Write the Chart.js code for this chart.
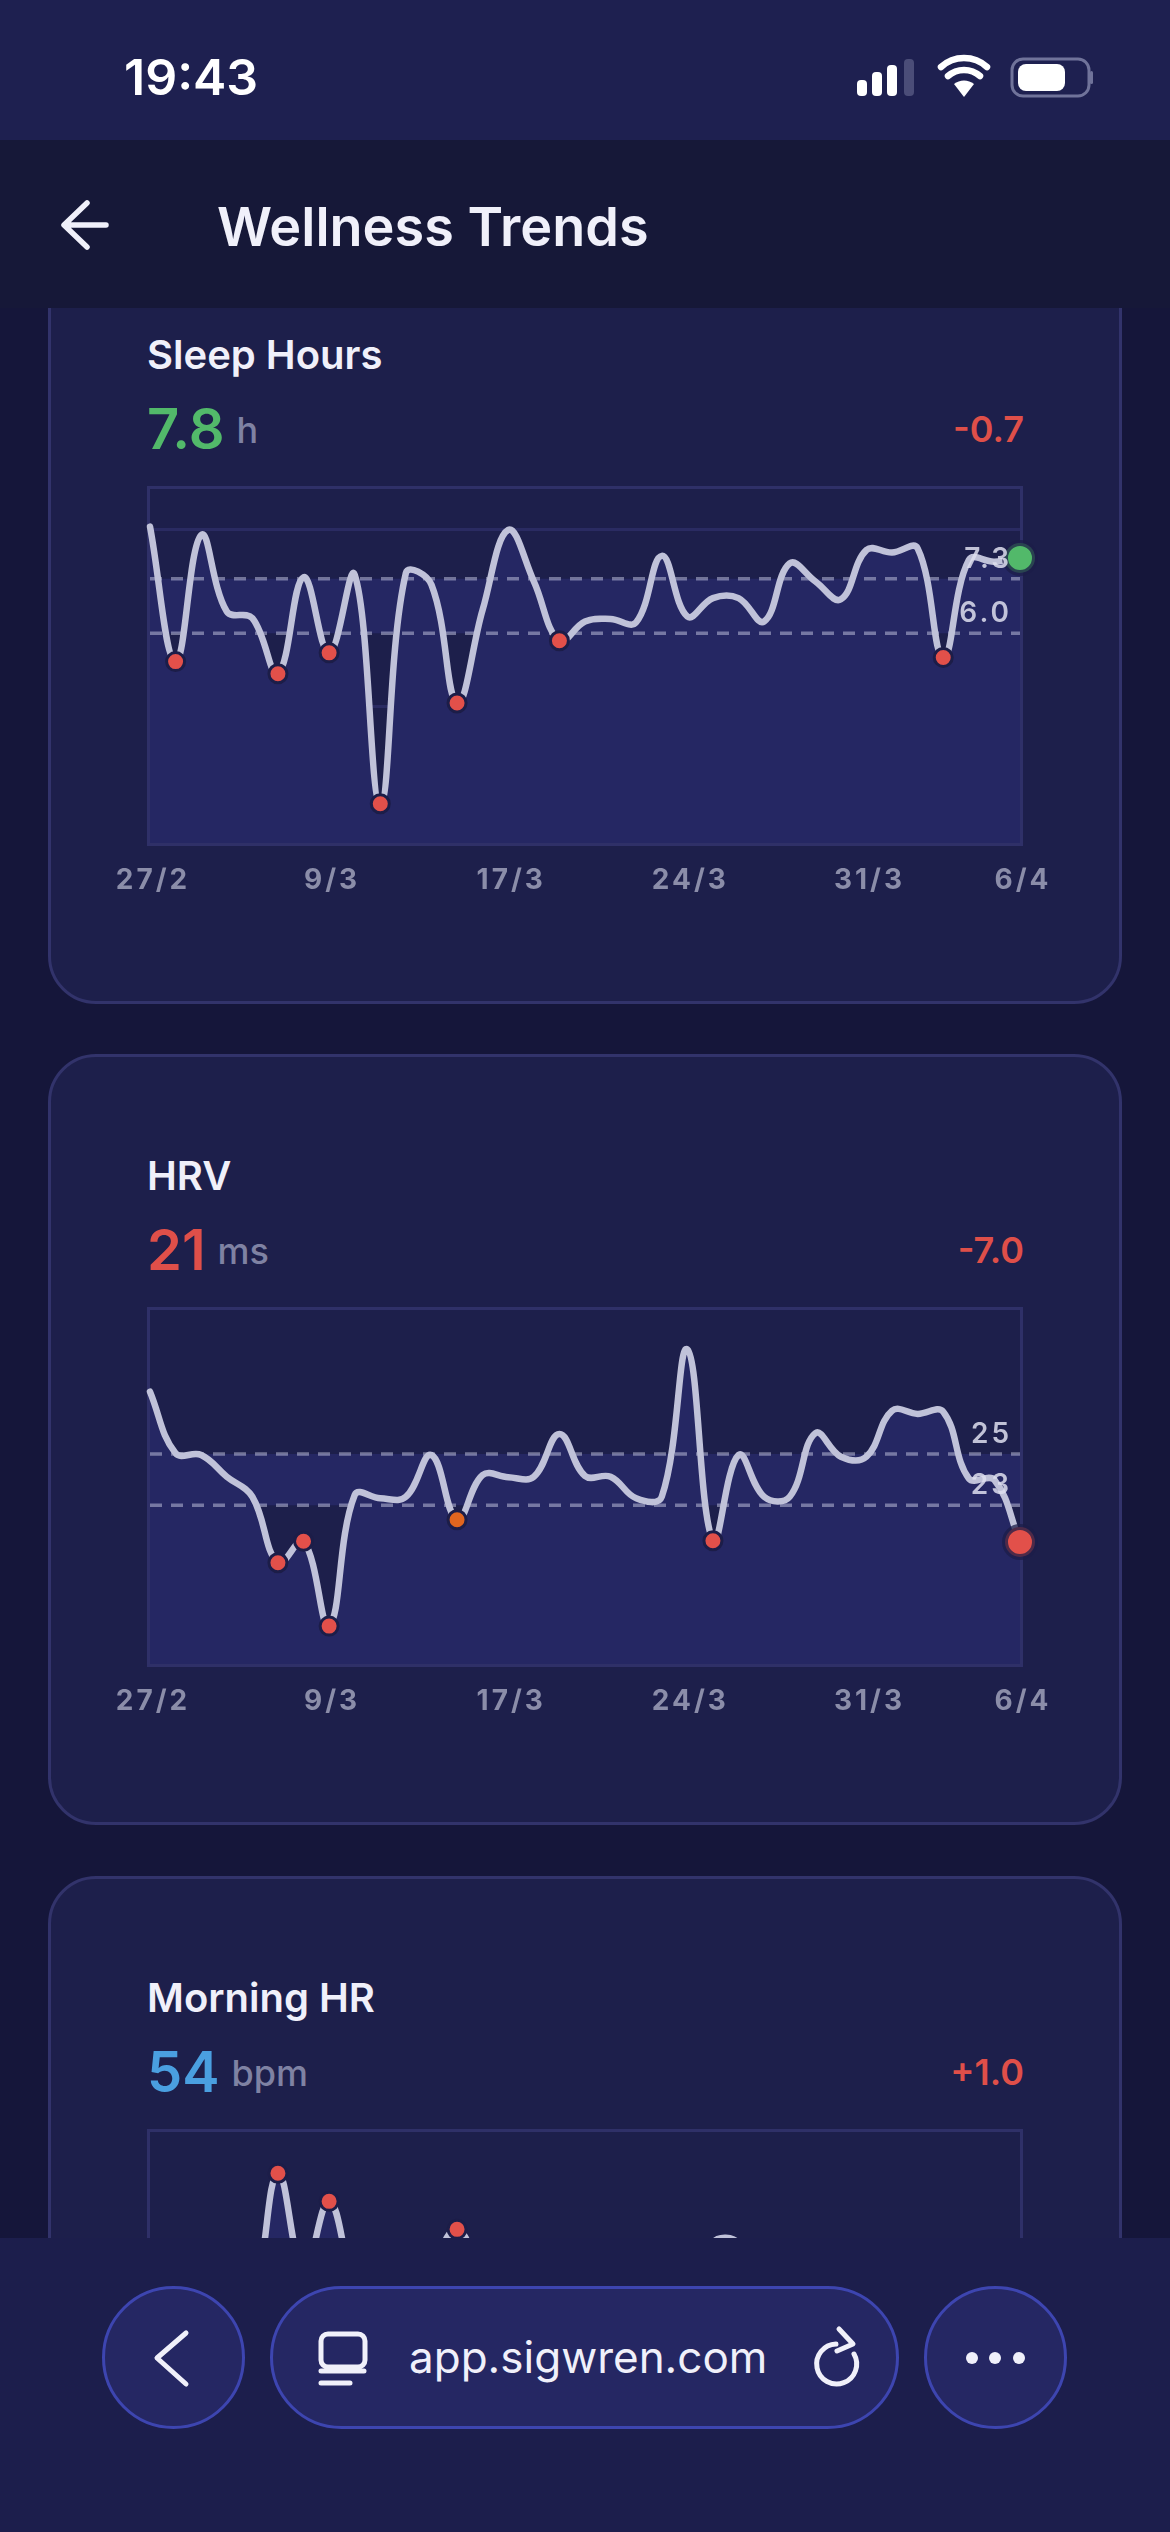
<!DOCTYPE html>
<html lang="en">
<head>
<meta charset="UTF-8">
<title>Wellness Trends</title>
<style>
  html, body { margin: 0; padding: 0; background: #15163a; }
  body { width: 1170px; height: 2532px; position: relative; overflow: hidden; font-family: Inter, sans-serif; color: #f0f0fa; }
  .abs { position: absolute; }
  .status { left: 0; top: 0; width: 1170px; height: 140px; background: #1e2050; z-index: 5; }
  .time { left: 124px; top: 47px; font-size: 50px; font-weight: 600; line-height: 60px; color: #fff; }
  .header { left: 0; top: 140px; width: 1170px; height: 168px; background: #161838; z-index: 5; }
  .heading { left: 217px; top: 55px; font-size: 54px; font-weight: 600; line-height: 64px; }
  .card { left: 48px; width: 1074px; height: 771px; box-sizing: border-box; background: #1d1f4b; border: 3px solid #32336b; border-radius: 48px; }
  .card h2 { position: absolute; left: 96px; top: 96px; margin: 0; font-size: 40px; font-weight: 600; line-height: 46px; }
  .val { position: absolute; left: 96px; top: 159px; font-size: 56px; font-weight: 600; line-height: 68px; }
  .val span { position: relative; top: -6px; font-size: 36px; font-weight: 500; color: #7f82a3; margin-left: 12px; }
  .delta { position: absolute; right: 95px; top: 171px; font-size: 36px; font-weight: 600; line-height: 44px; color: #df4f49; }
  .card canvas { position: absolute; left: 49px; top: 240px; }
  .bar { left: 0; top: 2238px; width: 1170px; height: 294px; background: #1c1e4c; z-index: 5; }
  .btn { top: 48px; height: 143px; box-sizing: border-box; background: #252763; border: 3px solid #3d45b0; border-radius: 72px; }
  .url { left: 409px; top: 91px; font-size: 44px; line-height: 56px; color: #f0f0fa; }
  svg { position: absolute; left: 0; top: 0; overflow: visible; }
</style>
<script src="https://cdn.jsdelivr.net/npm/chart.js"></script>
</head>
<body>
<div class="abs status">
  <div class="abs time">19:43</div>
  <svg width="1170" height="140">
    <g fill="#fff">
      <rect x="857" y="80" width="10" height="16" rx="4"/>
      <rect x="872" y="72" width="10" height="24" rx="4"/>
      <rect x="887" y="65" width="10" height="31" rx="4"/>
      <rect x="904" y="59" width="10" height="37" rx="4" fill="#4b4d78"/>
      <path d="M964 97l-10-13a16 16 0 0 1 20 0z"/>
    </g>
    <g fill="none" stroke="#fff" stroke-width="6.5" stroke-linecap="round">
      <path d="M948 76a24 24 0 0 1 32 0"/>
      <path d="M941 67a34 34 0 0 1 46 0"/>
    </g>
    <rect x="1012" y="59" width="77" height="37" rx="11" fill="none" stroke="#70739a" stroke-width="3"/>
    <rect x="1018" y="64" width="47" height="27" rx="8" fill="#fff"/>
    <rect x="1090" y="71" width="3" height="13" rx="1.5" fill="#70739a"/>
  </svg>
</div>
<div class="abs header">
  <svg width="1170" height="168">
    <path d="M106 85H65M87 63L64 85L87 107" fill="none" stroke="#f0f0fa" stroke-width="5.5" stroke-linecap="round" stroke-linejoin="round"/>
  </svg>
  <div class="abs heading">Wellness Trends</div>
</div>

<div class="abs card" style="top:233px">
  <h2>Sleep Hours</h2>
  <div class="val" style="color:#52b96a">7.8<span>h</span></div>
  <div class="delta">-0.7</div>
  <canvas id="sleepChart" width="970" height="440"></canvas>
</div>
<div class="abs card" style="top:1054px">
  <h2>HRV</h2>
  <div class="val" style="color:#df4f49">21<span>ms</span></div>
  <div class="delta">-7.0</div>
  <canvas id="hrvChart" width="970" height="440"></canvas>
</div>
<div class="abs card" style="top:1876px">
  <h2>Morning HR</h2>
  <div class="val" style="color:#4a9fe0">54<span>bpm</span></div>
  <div class="delta">+1.0</div>
  <canvas id="hrChart" width="970" height="440"></canvas>
</div>

<div class="abs bar">
  <div class="abs btn" style="left:102px;width:143px"></div>
  <div class="abs btn" style="left:270px;width:629px"></div>
  <div class="abs btn" style="left:924px;width:143px"></div>
  <div class="abs url">app.sigwren.com</div>
  <svg width="1170" height="294">
    <g fill="none" stroke="#f0f0fa" stroke-width="5" stroke-linecap="round" stroke-linejoin="round">
      <path d="M186 95L157 120L186 146"/>
      <rect x="321" y="96" width="44" height="33" rx="7"/>
      <path d="M321 133H364M321 145H350"/>
      <path d="M854 116a20 20 0 1 1-18-10"/>
      <path d="M839 91l14 15l-16 7"/>
    </g>
    <g fill="#f0f0fa">
      <circle cx="972" cy="120" r="6"/>
      <circle cx="995" cy="120" r="6"/>
      <circle cx="1019" cy="120" r="6"/>
    </g>
  </svg>
</div>

<script>
// x axis
const dates = ['27/2','28/2','1/3','3/3','4/3','6/3','7/3','9/3','10/3','11/3','12/3','13/3','15/3','16/3','17/3',
  '18/3','19/3','20/3','21/3','22/3','23/3','24/3','25/3','26/3','27/3','28/3','29/3','30/3','31/3',
  '1/4','2/4','3/4','4/4','5/4','6/4'];
const tickDates = ['27/2','9/3','17/3','24/3','31/3','6/4'];

// Sleep Hours
const sleepValues = [8.55,5.32,8.35,6.52,6.36,5.03,7.34,5.53,7.40,1.92,7.44,7.16,4.33,6.56,8.47,7.24,5.82,
  6.28,6.34,6.26,7.85,6.40,6.84,6.84,6.28,7.67,7.24,6.81,7.99,7.93,8.03,5.42,7.75,7.71,7.8];
const sleepBand = [7.3, 6.0];
const sleepRange = [0.98, 9.45];
const sleepGrid = [4.25, 8.47];
const sleepLows = [1,5,7,9,12,16,31];

// HRV
const hrvValues = [27.15,24.63,24.56,23.67,22.85,20.15,21.03,17.56,22.92,22.79,22.85,24.56,21.91,23.74,23.65,23.67,25.42,
  23.7,23.67,22.79,22.85,28.88,21.05,24.56,22.85,22.85,25.45,24.49,24.49,26.37,26.24,26.33,23.6,23.54,21];
const hrvBand = [24.6, 22.5];
const hrvRange = [16.01, 30.49];
const hrvLows = [5,6,7,22];
const hrvWarn = [12];

// Morning HR (everything below the toolbar is estimated)
const hrValues = [56,55.5,56,57,58.5,67.2,60.5,65.3,59.5,57,56,60.5,63.4,60,57,55.5,56,55,56,55,56,58,
  62.5,62.45,58,55,55.5,54.5,55,54,54,55,53.5,54,54];
const hrBand = [58, 56];
const hrRange = [46, 70];
const hrHighs = [5,7,12];

const RED = '#e2504a', ORANGE = '#e0651f', RING = '#1c1d48';
const LIGHT = '#252763';

// plot frame + threshold labels
const framePlugin = {
  id: 'frame',
  beforeDraw(chart) {
    chart.ctx.letterSpacing = '3px';
    const a = chart.chartArea, c = chart.ctx;
    c.save();
    c.strokeStyle = '#2f3068';
    c.lineWidth = 3;
    c.strokeRect(a.left - 1.5, a.top - 1.5, a.width + 3, a.height + 3);
    c.restore();
  },
  afterDatasetsDraw(chart, args, opts) {
    const c = chart.ctx, y = chart.scales.y;
    c.save();
    c.font = '600 28px Inter';
    c.fillStyle = 'rgba(222,223,238,0.85)';
    c.textAlign = 'right';
    c.textBaseline = 'alphabetic';
    opts.band.forEach((v, i) => {
      c.fillText(opts.text[i], chart.chartArea.right - 8, y.getPixelForValue(v) - 11);
    });
    c.restore();
  }
};

function makeChart(id, values, band, range, grid, text, redIdx, warnIdx, lastColor) {
  const last = values.length - 1;
  const bandHi = values.map(() => band[0]);
  const bandLo = values.map(() => band[1]);
  const dash = { borderColor: 'rgba(200,201,228,0.5)', borderWidth: 3.5, borderDash: [12, 9], pointRadius: 0, tension: 0 };
  return new Chart(document.getElementById(id), {
    type: 'line',
    data: {
      labels: dates,
      datasets: [
        {
          data: values, order: 0, clip: false,
          borderColor: '#c0c2d9', borderWidth: 6.5, tension: 0.4, borderCapStyle: 'round', fill: false,
          pointRadius: c => c.dataIndex === last ? 15 : (redIdx.includes(c.dataIndex) || warnIdx.includes(c.dataIndex)) ? 9 : 0,
          pointBackgroundColor: c => c.dataIndex === last ? lastColor : warnIdx.includes(c.dataIndex) ? ORANGE : RED,
          pointBorderColor: c => c.dataIndex === last ? 'rgba(28,29,72,0.75)' : RING,
          pointBorderWidth: c => c.dataIndex === last ? 6 : 3
        },
        // lo has to paint after hi, otherwise hi's fill covers half of its dashes
        Object.assign({ data: bandLo, order: 1, fill: false }, dash),
        Object.assign({ data: bandHi, order: 2, fill: { target: { value: band[1] } }, backgroundColor: LIGHT }, dash),
        {
          data: values, order: 3, fill: 'start', backgroundColor: LIGHT,
          borderWidth: 0, pointRadius: 0, tension: 0.4
        }
      ]
    },
    options: {
      responsive: false,
      animation: false,
      events: [],
      layout: { autoPadding: false, padding: { left: 50, right: 50, top: 13, bottom: 0 } },
      plugins: { legend: { display: false }, tooltip: { enabled: false }, frame: { band: band, text: text } },
      scales: {
        x: {
          grid: { display: false },
          border: { display: false },
          afterFit(s) { s.height = 73; },
          ticks: {
            autoSkip: false, maxRotation: 0, padding: 13, labelOffset: 3,
            color: '#8b8da9',
            font: { family: 'Inter', size: 28, weight: '700' },
            callback(v) { const d = this.getLabelForValue(v); return tickDates.includes(d) ? d : ''; }
          }
        },
        y: {
          min: range[0], max: range[1],
          afterFit(s) { s.width = 0; },
          afterBuildTicks(s) { s.ticks = grid.map(v => ({ value: v })); },
          border: { display: false },
          grid: { color: '#2a2b62', lineWidth: 3, drawTicks: false },
          ticks: { display: false }
        }
      }
    },
    plugins: [framePlugin]
  });
}

makeChart('sleepChart', sleepValues, sleepBand, sleepRange, sleepGrid, ['7.3', '6.0'], sleepLows, [], '#52b96a');
makeChart('hrvChart', hrvValues, hrvBand, hrvRange, [], ['25', '23'], hrvLows, hrvWarn, RED);
makeChart('hrChart', hrValues, hrBand, hrRange, [], ['58', '56'], hrHighs, [], '#4a9fe0');
</script>
</body>
</html>
